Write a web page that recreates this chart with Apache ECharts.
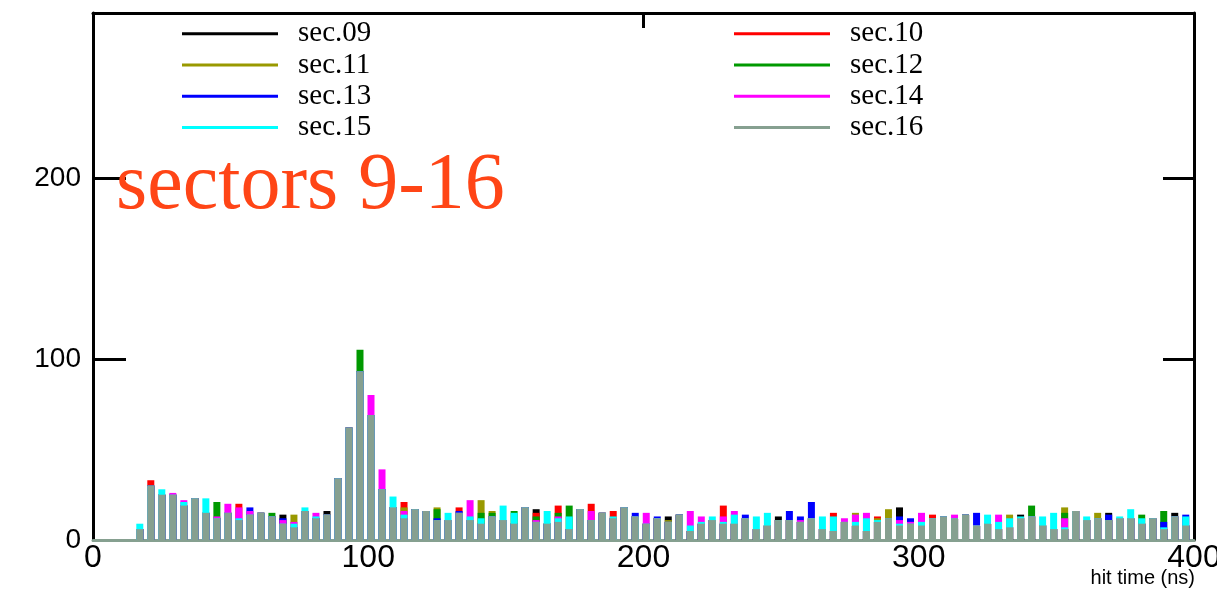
<!DOCTYPE html>
<html>
<head>
<meta charset="utf-8">
<title>sectors 9-16 hit time</title>
<script src="https://cdn.jsdelivr.net/npm/echarts@6/dist/echarts.min.js"></script>
<style>
  html, body { margin: 0; padding: 0; background: #ffffff; }
  #chart { width: 1217px; height: 590px; }
</style>
</head>
<body>
<div id="chart"></div>
<script>
// Histogram binning of hit time (ns): 4 ns bins, first filled bin centred at 17 ns
const FIRST_BIN_CENTER = 17;
const BIN_WIDTH = 4;

const sectorNames = ['sec.09', 'sec.10', 'sec.11', 'sec.12', 'sec.13', 'sec.14', 'sec.15', 'sec.16'];
const sectorColors = ['#000000', '#ff0000', '#999900', '#009900', '#0000ff', '#ff00ff', '#00ffff', '#86a090'];

// Counts per bin for each sector
const sec09 = [6,30,25,25,19,23,15,12,15,11, 14,15,13,14,7,16,12,16,34,62, 93,69,28,18,12,17,16,11,11,15,
  11,9,13,11,9,18,17,9,10,6, 17,11,15,12,18,13,9,12,13,14, 5,9,11,9,9,12,6,8,13,11,
  10,12,6,5,10,8,5,10,12,18, 9,8,12,13,12,14,8,9,6,7, 14,13,8,6,6,16,11,12,15,12, 12,9,12,6,15,8];
const sec10 = [6,33,25,25,19,23,15,12,15,20, 14,15,13,9,7,16,12,14,34,62, 93,69,28,18,21,17,16,11,11,18,
  11,9,13,11,9,18,15,9,19,6, 17,20,15,16,18,13,9,12,10,14, 5,9,11,19,9,12,6,8,11,11,
  10,12,6,15,10,8,5,13,12,8, 9,8,14,13,12,14,8,9,6,7, 12,13,8,6,6,16,11,12,11,12, 12,9,12,6,13,8];
const sec11 = [6,30,25,25,19,23,15,12,15,11, 14,15,13,9,14,16,12,14,34,62, 93,69,28,18,18,17,16,18,11,15,
  11,22,16,11,9,18,10,9,10,6, 17,11,15,12,18,13,9,12,11,14, 5,9,11,9,9,12,6,8,11,11,
  10,12,6,5,10,15,5,12,17,8, 9,8,12,13,12,14,8,9,6,14, 12,13,8,6,18,16,11,15,11,12, 12,9,12,6,13,8];
const sec12 = [6,30,25,25,19,23,15,21,15,11, 14,15,15,9,7,16,12,14,34,62, 105,69,28,18,12,17,16,17,11,15,
  11,15,15,11,16,18,13,9,15,19, 17,11,15,12,18,13,9,12,10,14, 5,9,11,9,9,12,6,8,11,11,
  10,12,6,5,10,8,5,10,12,8, 9,8,12,13,12,14,8,9,6,7, 12,19,8,6,15,16,11,12,11,12, 12,14,12,16,13,8];
const sec13 = [6,30,25,25,19,23,15,12,15,11, 18,15,13,12,7,16,12,14,34,62, 93,69,28,18,12,17,16,12,11,16,
  11,9,13,11,9,18,10,9,10,6, 17,11,15,12,18,15,9,13,10,14, 5,9,11,9,9,14,6,8,11,16,
  13,21,6,5,10,8,5,10,12,13, 12,8,12,13,12,14,15,9,6,7, 12,13,8,6,6,16,11,12,14,12, 12,9,12,10,13,14];
const sec14 = [6,30,25,26,22,23,15,13,20,18, 16,15,13,11,10,16,15,14,34,62, 93,80,39,18,16,17,16,11,11,15,
  22,9,13,11,9,18,11,9,13,6, 17,16,15,12,18,13,15,12,10,14, 16,13,11,13,16,12,6,8,11,11,
  11,12,6,5,12,14,15,10,12,11, 10,15,12,13,14,14,8,9,14,7, 12,13,8,6,12,16,11,12,11,12, 12,9,12,6,13,8];
const sec15 = [9,30,28,25,21,23,23,12,15,12, 14,15,13,9,9,18,13,14,34,62, 93,69,28,24,14,17,16,11,15,15,
  13,12,13,19,15,18,10,16,12,13, 17,11,15,13,18,13,9,12,10,14, 8,10,13,10,14,12,13,15,11,11,
  10,12,13,13,10,10,12,11,12,9, 9,10,12,13,12,14,8,14,10,12, 13,13,13,15,7,16,13,12,11,13, 17,12,12,7,13,13];
const sec16 = [6,30,25,25,19,23,15,12,15,11, 14,15,13,9,7,16,12,14,34,62, 93,69,28,18,12,17,16,11,11,15,
  11,9,13,11,9,18,10,9,10,6, 17,11,15,12,18,13,9,12,10,14, 5,9,11,9,9,12,6,8,11,11,
  10,12,6,5,10,8,5,10,12,8, 9,8,12,13,12,14,8,9,6,7, 12,13,8,6,6,16,11,12,11,12, 12,9,12,6,13,8];

const sectorCounts = [sec09, sec10, sec11, sec12, sec13, sec14, sec15, sec16];

const xTicks = [0, 100, 200, 300, 400];
const yTicks = [0, 100, 200];

const chart = echarts.init(document.getElementById('chart'), null, { renderer: 'canvas' });

// Sectors are overlaid in order, so later sectors cover earlier ones
const series = sectorNames.map((name, s) => ({
  name: name,
  type: 'bar',
  xAxisIndex: 0,
  yAxisIndex: 0,
  barWidth: 7,
  barGap: '-100%',
  silent: true,
  z: 3,
  itemStyle: { color: sectorColors[s] },
  emphasis: { disabled: true },
  data: sectorCounts[s].map((v, i) => [FIRST_BIN_CENTER + i * BIN_WIDTH, v])
}));

const legendBase = {
  orient: 'vertical',
  selectedMode: false,
  icon: 'rect',
  padding: 0,
  itemWidth: 96,
  itemHeight: 3,
  itemGap: 0,
  textStyle: {
    fontFamily: 'Liberation Serif',
    fontSize: 29,
    lineHeight: 31.3,
    color: '#000000',
    padding: [0, 0, 0, 15]
  }
};

const option = {
  animation: false,
  backgroundColor: '#ffffff',
  grid: { left: 93, right: 23, top: 13, bottom: 50, containLabel: false, outerBoundsMode: 'none' },
  xAxis: [
    {
      type: 'value',
      position: 'bottom',
      z: 2,
      min: xTicks[0],
      max: xTicks[xTicks.length - 1],
      interval: 100,
      axisLine: { show: true, onZero: false, lineStyle: { color: sectorColors[7], width: 3 } },
      axisTick: { show: false },
      splitLine: { show: false },
      axisLabel: { fontFamily: 'Liberation Sans', fontSize: 32, color: '#000000', margin: 2 }
    },
    {
      type: 'value',
      position: 'top',
      min: 0,
      max: 400,
      interval: 200,
      axisLine: { show: true, onZero: false, lineStyle: { color: '#000000', width: 3 } },
      axisTick: { show: true, inside: true, length: 15, lineStyle: { color: '#000000', width: 3 } },
      axisLabel: { show: false },
      splitLine: { show: false }
    }
  ],
  yAxis: [
    {
      type: 'value',
      position: 'left',
      min: yTicks[0],
      max: 291,
      interval: 100,
      axisLine: { show: true, onZero: false, lineStyle: { color: '#000000', width: 3 } },
      axisTick: { show: true, inside: true, length: 33, lineStyle: { color: '#000000', width: 3 } },
      axisLabel: { fontFamily: 'Liberation Sans', fontSize: 28, color: '#000000', margin: 12, showMaxLabel: false },
      splitLine: { show: false }
    },
    {
      type: 'value',
      position: 'right',
      min: 0,
      max: 291,
      interval: 100,
      axisLine: { show: true, onZero: false, lineStyle: { color: '#000000', width: 3 } },
      axisTick: { show: true, inside: true, length: 31, lineStyle: { color: '#000000', width: 3 } },
      axisLabel: { show: false },
      splitLine: { show: false }
    }
  ],
  legend: [
    Object.assign({}, legendBase, { left: 182, top: 18, data: ['sec.09', 'sec.11', 'sec.13', 'sec.15'] }),
    Object.assign({}, legendBase, { left: 734, top: 18, data: ['sec.10', 'sec.12', 'sec.14', 'sec.16'] })
  ],
  series: series,
  graphic: [
    {
      type: 'text',
      left: 116,
      top: 147,
      z: 100,
      style: {
        text: 'sectors 9-16',
        fontFamily: 'Liberation Serif',
        fontSize: 80,
        fill: '#ff4516'
      }
    },
    {
      type: 'text',
      right: 22,
      top: 568,
      z: 100,
      style: {
        text: 'hit time (ns)',
        fontFamily: 'Liberation Sans',
        fontSize: 20,
        fill: '#000000'
      }
    }
  ]
};

chart.setOption(option);
</script>
</body>
</html>
